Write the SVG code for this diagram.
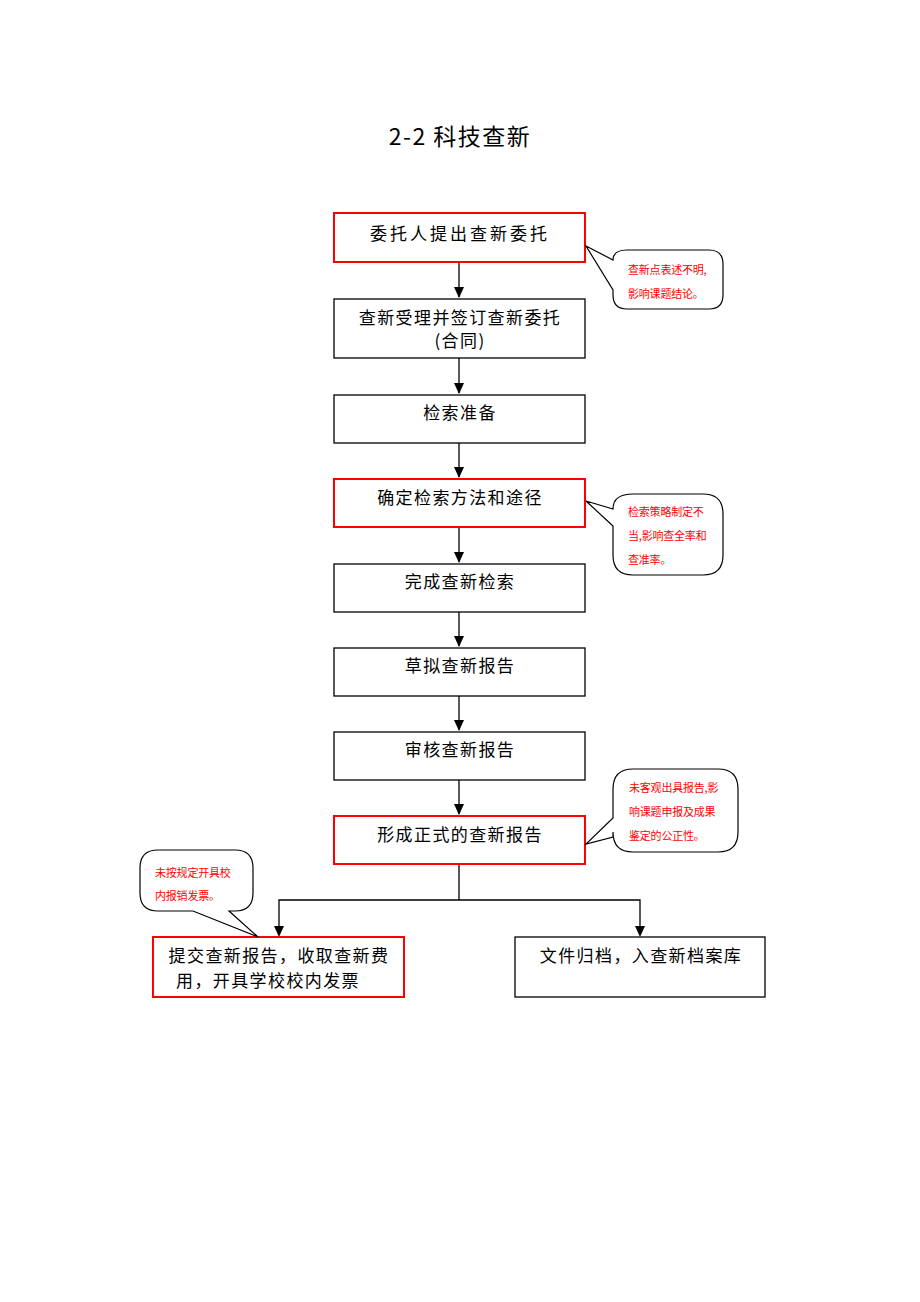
<svg xmlns="http://www.w3.org/2000/svg" width="920" height="1302" viewBox="0 0 920 1302">
<style>
.box{fill:#fff;stroke:#000;stroke-width:1.3}
.red{fill:#fff;stroke:#f00;stroke-width:2}
.t{font-family:"Noto Sans CJK SC","Liberation Sans",sans-serif;font-size:17px;fill:#000;text-anchor:middle;letter-spacing:1.4px}
.c{font-family:"Noto Sans CJK SC","Liberation Sans",sans-serif;font-size:11px;fill:#f00;letter-spacing:-0.2px}
.co{fill:#fff;stroke:#000;stroke-width:1.2}
.ln{stroke:#000;stroke-width:1.3;fill:none}
</style>
<rect width="920" height="1302" fill="#fff"/>
<text x="460" y="145" style="font-family:'Noto Sans CJK SC','Liberation Sans',sans-serif;font-size:23px;text-anchor:middle;letter-spacing:1.5px">2-2 科技查新</text>

<g id="connectors">
<path class="ln" d="M459,262 V297"/><path d="M454,287 L464,287 L459,298 Z"/>
<path class="ln" d="M459,358 V393"/><path d="M454,383 L464,383 L459,394 Z"/>
<path class="ln" d="M459,443 V477"/><path d="M454,467 L464,467 L459,478 Z"/>
<path class="ln" d="M459,527 V562"/><path d="M454,552 L464,552 L459,563 Z"/>
<path class="ln" d="M459,612 V646"/><path d="M454,636 L464,636 L459,647 Z"/>
<path class="ln" d="M459,696 V730"/><path d="M454,720 L464,720 L459,731 Z"/>
<path class="ln" d="M459,780 V814"/><path d="M454,804 L464,804 L459,815 Z"/>
<path class="ln" d="M459,864 V900 M279,935 V900 H640 V935"/>
<path d="M274,926 L284,926 L279,937 Z"/>
<path d="M635,926 L645,926 L640,937 Z"/>
</g>

<g id="n1"><rect class="red" x="334" y="213" width="251" height="49"/><text class="t" x="460" y="240" style="letter-spacing:3px">委托人提出查新委托</text></g>
<g id="n2"><rect class="box" x="334" y="299" width="251" height="59"/><text class="t" x="460" y="324">查新受理并签订查新委托</text><text class="t" x="460" y="347">(合同)</text></g>
<g id="n3"><rect class="box" x="334" y="395" width="251" height="48"/><text class="t" x="460" y="419">检索准备</text></g>
<g id="n4"><rect class="red" x="334" y="479" width="251" height="48"/><text class="t" x="460" y="504">确定检索方法和途径</text></g>
<g id="n5"><rect class="box" x="334" y="564" width="251" height="48"/><text class="t" x="460" y="588">完成查新检索</text></g>
<g id="n6"><rect class="box" x="334" y="648" width="251" height="48"/><text class="t" x="460" y="672">草拟查新报告</text></g>
<g id="n7"><rect class="box" x="334" y="732" width="251" height="48"/><text class="t" x="460" y="756">审核查新报告</text></g>
<g id="n8"><rect class="red" x="334" y="816" width="251" height="48"/><text class="t" x="460" y="841">形成正式的查新报告</text></g>
<g id="n9"><rect class="red" x="153" y="937" width="251" height="60"/><text class="t" x="279" y="962">提交查新报告，收取查新费</text><text class="t" x="268" y="987">用，开具学校校内发票</text></g>
<g id="n10"><rect class="box" x="515" y="937" width="250" height="60"/><text class="t" x="641" y="962">文件归档，入查新档案库</text></g>

<g id="callout1"><path class="co" d="M627,250 H709 Q723,250 723,264 V295 Q723,309 709,309 H627 Q613,309 613,295 V290 L586,246 L613,260 Q613,250 627,250 Z"/>
<text class="c" x="628" y="274">查新点表述不明,</text><text class="c" x="628" y="298">影响课题结论。</text></g>
<g id="callout2"><path class="co" d="M633,494 H703 Q723,494 723,514 V555 Q723,575 703,575 H633 Q613,575 613,555 V526 L586,501 L613,509 Q613,494 633,494 Z"/>
<text class="c" x="628" y="516">检索策略制定不</text><text class="c" x="628" y="540">当,影响查全率和</text><text class="c" x="628" y="564">查准率。</text></g>
<g id="callout3"><path class="co" d="M633,769 H718 Q738,769 738,789 V832 Q738,852 718,852 H633 Q613,852 613,832 V837 L586,844 L613,818 V789 Q613,769 633,769 Z"/>
<text class="c" x="629" y="792">未客观出具报告,影</text><text class="c" x="629" y="816">响课题申报及成果</text><text class="c" x="629" y="840">鉴定的公正性。</text></g>
<g id="callout4"><path class="co" d="M158,850 H235 Q253,850 253,868 V893 Q253,911 235,911 H229 L258,937 L193,911 H158 Q140,911 140,893 V868 Q140,850 158,850 Z"/>
<text class="c" x="155" y="877">未按规定开具校</text><text class="c" x="155" y="900">内报销发票。</text></g>
</svg>
